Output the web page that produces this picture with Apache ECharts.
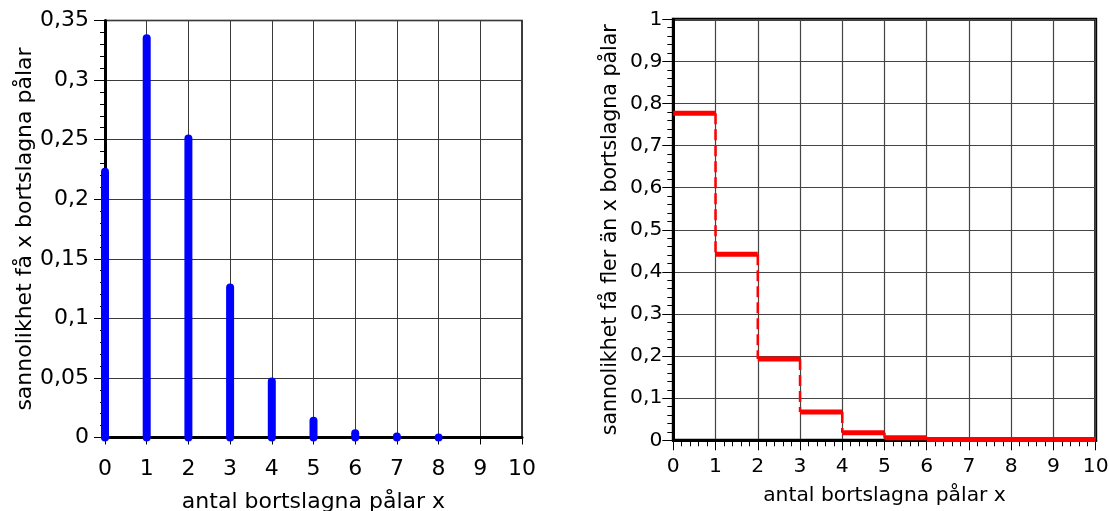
<!DOCTYPE html>
<html>
<head>
<meta charset="utf-8">
<script src="https://cdn.jsdelivr.net/npm/echarts@6/dist/echarts.min.js"></script>
<style>
  html, body { margin: 0; padding: 0; background: #fff; }
  #chart { width: 1109px; height: 511px; }
</style>
</head>
<body>
<div id="chart"></div>
<script>
// Number of piles knocked out (x) and the probability of each outcome
const xValues = [0, 1, 2, 3, 4, 5, 6, 7, 8];
const probExact = [0.223, 0.335, 0.251, 0.126, 0.047, 0.014, 0.0035, 0.0008, 0.0001];

// Probability of more than x piles, one step per unit interval [x, x+1)
const stepStarts = [0, 1, 2, 3, 4, 5, 6, 7, 8, 9];
const probMore = [0.777, 0.442, 0.193, 0.067, 0.018, 0.006, 0.002, 0.002, 0.002, 0.002];

// Axis tick labels (Swedish decimal comma)
const leftYTicks = ['0', '0,05', '0,1', '0,15', '0,2', '0,25', '0,3', '0,35'];
const rightYTicks = ['0', '0,1', '0,2', '0,3', '0,4', '0,5', '0,6', '0,7', '0,8', '0,9', '1'];
const xTicks = ['0', '1', '2', '3', '4', '5', '6', '7', '8', '9', '10'];

const xName = 'antal bortslagna pålar x';
const leftYName = 'sannolikhet få x bortslagna pålar';
const rightYName = 'sannolikhet få fler än x bortslagna pålar';

const FONT = 'DejaVu Sans';

const stemData = xValues.map((x, i) => [x, probExact[i]]);
const stepData = stepStarts.map((x, i) => [
  x, probMore[i], i + 1 < probMore.length ? probMore[i + 1] : probMore[i]
]);

function splitLine(color, width) {
  return { show: true, lineStyle: { color: color, width: width } };
}

const chart = echarts.init(document.getElementById('chart'), null, { renderer: 'canvas' });

chart.setOption({
  animation: false,
  backgroundColor: '#ffffff',
  grid: [
    { left: 105, right: 587, top: 20.5, bottom: 73.5, outerBoundsMode: 'none', containLabel: false,
      show: true, borderColor: '#000', borderWidth: 1.5, backgroundColor: 'transparent' },
    { left: 673.3, right: 13.3, top: 19.3, bottom: 70.7, outerBoundsMode: 'none', containLabel: false,
      show: true, borderColor: '#000', borderWidth: 3, backgroundColor: 'transparent' }
  ],
  xAxis: [
    {
      gridIndex: 0, type: 'value', min: 0, max: 10, interval: 1,
      name: xName, nameLocation: 'middle', nameGap: 54,
      nameTextStyle: { fontFamily: FONT, fontSize: 22, color: '#000' },
      axisLine: { show: true, onZero: false, lineStyle: { color: '#000', width: 3 } },
      axisTick: { show: true, length: 7, lineStyle: { color: '#000', width: 1 } },
      axisLabel: { fontFamily: FONT, fontSize: 22, color: '#000', margin: 21,
        formatter: (v, i) => xTicks[i] },
      splitLine: splitLine('#3a3a3a', 1)
    },
    {
      gridIndex: 1, type: 'value', min: 0, max: 10, interval: 1,
      name: xName, nameLocation: 'middle', nameGap: 45,
      nameTextStyle: { fontFamily: FONT, fontSize: 20.3, color: '#000' },
      axisLine: { show: true, onZero: false, lineStyle: { color: '#000', width: 3 } },
      axisTick: { show: true, length: 10, lineStyle: { color: '#000', width: 1 } },
      minorTick: { show: true, splitNumber: 5, length: 6, lineStyle: { color: '#000', width: 1 } },
      axisLabel: { fontFamily: FONT, fontSize: 20.3, color: '#000', margin: 16,
        formatter: (v, i) => xTicks[i] },
      splitLine: splitLine('#444', 1.2)
    }
  ],
  yAxis: [
    {
      gridIndex: 0, type: 'value', min: 0, max: 0.35, interval: 0.05,
      name: leftYName, nameLocation: 'middle', nameGap: 68, nameRotate: 90,
      nameTextStyle: { fontFamily: FONT, fontSize: 22, color: '#000' },
      axisLine: { show: true, lineStyle: { color: '#000', width: 3 } },
      axisTick: { show: true, length: 11, lineStyle: { color: '#000', width: 1 } },
      minorTick: { show: true, splitNumber: 5, length: 5, lineStyle: { color: '#000', width: 1 } },
      axisLabel: { fontFamily: FONT, fontSize: 22, color: '#000', margin: 16,
        formatter: (v, i) => leftYTicks[i] },
      splitLine: splitLine('#3a3a3a', 1)
    },
    {
      gridIndex: 1, type: 'value', min: 0, max: 1, interval: 0.1,
      name: rightYName, nameLocation: 'middle', nameGap: 52, nameRotate: 90,
      nameTextStyle: { fontFamily: FONT, fontSize: 20.5, color: '#000' },
      axisLine: { show: true, lineStyle: { color: '#000', width: 3 } },
      axisTick: { show: true, length: 11, lineStyle: { color: '#000', width: 1 } },
      minorTick: { show: true, splitNumber: 5, length: 6, lineStyle: { color: '#000', width: 1 } },
      axisLabel: { fontFamily: FONT, fontSize: 20.3, color: '#000', margin: 11,
        formatter: (v, i) => rightYTicks[i] },
      splitLine: splitLine('#444', 1.2)
    }
  ],
  series: [
    {
      // vertical stems with rounded ends, from 0 up to each probability
      type: 'custom',
      xAxisIndex: 0, yAxisIndex: 0,
      z: 5,
      clip: false,
      data: stemData,
      renderItem: function (params, api) {
        const base = api.coord([api.value(0), 0]);
        const top = api.coord([api.value(0), api.value(1)]);
        return {
          type: 'line',
          shape: { x1: base[0], y1: base[1], x2: top[0], y2: top[1] },
          style: { stroke: '#0000ff', lineWidth: 8, lineCap: 'round' }
        };
      }
    },
    {
      // step function: solid horizontal levels, dashed vertical drops
      type: 'custom',
      xAxisIndex: 1, yAxisIndex: 1,
      z: 5,
      clip: false,
      data: stepData,
      renderItem: function (params, api) {
        const x = api.value(0);
        const v = api.value(1);
        const vNext = api.value(2);
        const a = api.coord([x, v]);
        const b = api.coord([x + 1, v]);
        const c = api.coord([x + 1, vNext]);
        return {
          type: 'group',
          children: [
            {
              type: 'line',
              shape: { x1: a[0], y1: a[1], x2: b[0], y2: b[1] },
              style: { stroke: '#ff0000', lineWidth: 5, lineCap: 'butt' }
            },
            {
              type: 'line',
              shape: { x1: b[0], y1: b[1], x2: c[0], y2: c[1] },
              style: { stroke: '#ff0000', lineWidth: 2.5, lineDash: [11, 5] }
            }
          ]
        };
      }
    }
  ]
});
</script>
</body>
</html>
